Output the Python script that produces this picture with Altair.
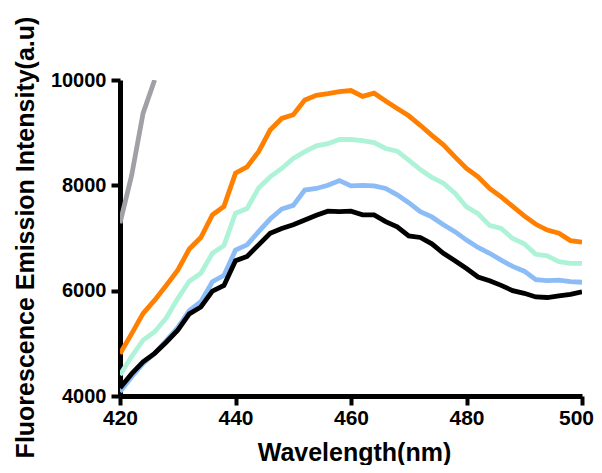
import altair as alt
import pandas as pd

wavelength = list(range(420, 502, 2))

orange = [4800, 5180, 5570, 5820, 6100, 6390, 6790, 7010, 7440, 7600,
          8230, 8350, 8640, 9050, 9270, 9340, 9620, 9710, 9740, 9780,
          9800, 9690, 9750, 9600, 9460, 9320, 9140, 8950, 8770, 8540,
          8320, 8160, 7940, 7780, 7600, 7420, 7260, 7150, 7090, 6950, 6920]
mint = [4400, 4750, 5060, 5220, 5480, 5850, 6180, 6330, 6710, 6860,
        7470, 7560, 7950, 8160, 8320, 8510, 8640, 8750, 8790, 8870,
        8870, 8850, 8810, 8700, 8650, 8480, 8300, 8150, 8040, 7850,
        7590, 7460, 7240, 7180, 6990, 6890, 6690, 6660, 6550, 6520, 6520]
blue = [4080, 4360, 4620, 4810, 5050, 5300, 5620, 5790, 6170, 6290,
        6770, 6870, 7120, 7360, 7550, 7620, 7910, 7940, 8000, 8090,
        7990, 8000, 7990, 7940, 7820, 7670, 7500, 7400, 7250, 7120,
        6960, 6820, 6710, 6580, 6460, 6370, 6210, 6190, 6200, 6170, 6160]
black = [4150, 4420, 4650, 4810, 5020, 5250, 5560, 5690, 5990, 6100,
         6570, 6650, 6870, 7090, 7180, 7250, 7340, 7430, 7510, 7500,
         7510, 7440, 7440, 7310, 7210, 7040, 7010, 6890, 6710, 6570,
         6420, 6260, 6190, 6100, 6000, 5950, 5880, 5870, 5900, 5930, 5980]
gray_wavelength = [420, 422, 424, 426]
gray = [7280, 8180, 9370, 10000]

series_names = ["gray", "orange", "mint", "blue", "black"]
series_colors = ["#a0a0a6", "#ff8000", "#aef3d8", "#8cbcf6", "#000000"]

rows = []
for w, v in zip(gray_wavelength, gray):
    rows.append({"wl": w, "val": v, "s": "gray"})
for name, vals in [("orange", orange), ("mint", mint), ("blue", blue), ("black", black)]:
    for w, v in zip(wavelength, vals):
        rows.append({"wl": w, "val": v, "s": name})
df = pd.DataFrame(rows)

font = "Liberation Sans"

chart = alt.Chart(df).mark_line(strokeWidth=4.8, clip=True).encode(
    x=alt.X("wl:Q",
            scale=alt.Scale(domain=[420, 500], nice=False, zero=False),
            axis=alt.Axis(values=[420, 440, 460, 480, 500], title="Wavelength(nm)", format="d",
                          grid=False, domainColor="black", domainWidth=5,
                          tickColor="black", tickWidth=4, tickSize=9, labelFlush=False,
                          labelOffset=alt.condition("datum.value == 500", alt.value(-6), alt.value(0)),
                          labelFont=font, labelFontSize=21, labelFontWeight="bold",
                          labelColor="black", labelPadding=2,
                          titleFont=font, titleFontSize=25, titleFontWeight="bold",
                          titleColor="black", titleX=234, titleY=64,
                          titleBaseline="alphabetic", titleAlign="center")),
    y=alt.Y("val:Q",
            scale=alt.Scale(domain=[4000, 10000], nice=False, zero=False),
            axis=alt.Axis(values=[4000, 6000, 8000, 10000], format="d",
                          title="Fluorescence Emission Intensity(a.u)",
                          grid=False, domainColor="black", domainWidth=5,
                          tickColor="black", tickWidth=4, tickSize=9, labelFlush=False,
                          labelFont=font, labelFontSize=20, labelFontWeight="bold",
                          labelColor="black", labelPadding=5,
                          titleFont=font, titleFontSize=25, titleFontWeight="bold",
                          titleColor="black", titleX=-87, titleY=157, titleAngle=270,
                          titleBaseline="alphabetic", titleAlign="center")),
    color=alt.Color("s:N", scale=alt.Scale(domain=series_names, range=series_colors), legend=None),
    order=alt.Order("wl:Q"),
    detail="s:N",
).properties(
    width=462, height=316,
    autosize=alt.AutoSizeParams(type="none"),
    padding={"left": 112, "top": 72, "right": 12, "bottom": 69},
).configure_view(stroke=None)

chart.save("out.html", embed_options={"renderer": "svg", "actions": False})
